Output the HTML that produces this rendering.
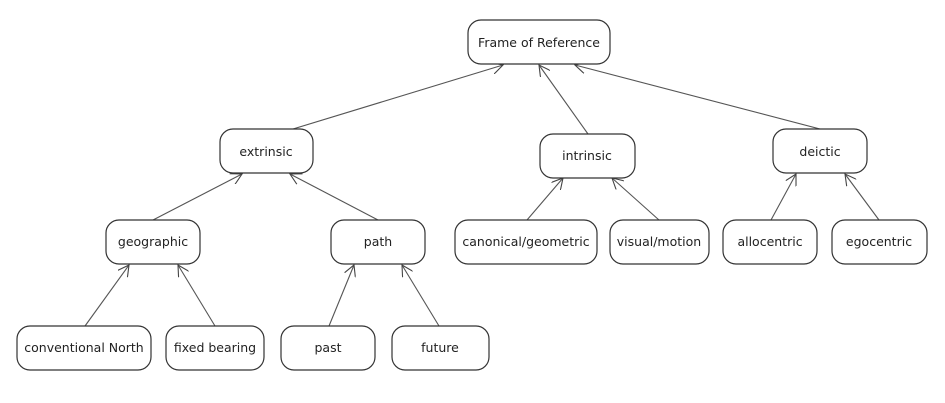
<!DOCTYPE html>
<html><head><meta charset="utf-8"><style>
html,body{margin:0;padding:0;background:#fff;}
svg{display:block;}
text{font-family:"DejaVu Sans","Liberation Sans",sans-serif;font-size:12.5px;fill:#222;}
</style></head><body>
<svg width="945" height="403" viewBox="0 0 945 403" xmlns="http://www.w3.org/2000/svg">
<defs>
<marker id="a" viewBox="0 0 12 12" refX="11" refY="6" markerWidth="12" markerHeight="12" markerUnits="userSpaceOnUse" orient="auto">
<path d="M0,0 L11,6 L0,12" fill="none" stroke="#444" stroke-width="1.1"/>
</marker>
</defs>
<g stroke="#555" stroke-width="1.1" marker-end="url(#a)">
<line x1="293" y1="129" x2="503" y2="65"/>
<line x1="588" y1="134" x2="539" y2="65"/>
<line x1="820" y1="129" x2="575" y2="65"/>
<line x1="153" y1="220" x2="242" y2="174"/>
<line x1="378" y1="220" x2="290" y2="174"/>
<line x1="85" y1="326" x2="129" y2="265"/>
<line x1="215" y1="326" x2="178" y2="265"/>
<line x1="329" y1="326" x2="354" y2="265"/>
<line x1="439" y1="326" x2="402" y2="265"/>
<line x1="527" y1="220" x2="563" y2="178"/>
<line x1="659" y1="220" x2="612" y2="178"/>
<line x1="771" y1="220" x2="796" y2="174"/>
<line x1="879" y1="220" x2="845" y2="174"/>
</g>
<g fill="#fff" stroke="#333" stroke-width="1.2">
<rect x="468" y="20" width="142" height="44" rx="13"/>
<rect x="220" y="129" width="93" height="44" rx="13"/>
<rect x="540" y="134" width="95" height="44" rx="13"/>
<rect x="773" y="129" width="94" height="44" rx="13"/>
<rect x="106" y="220" width="94" height="44" rx="13"/>
<rect x="331" y="220" width="94" height="44" rx="13"/>
<rect x="455" y="220" width="142" height="44" rx="13"/>
<rect x="610" y="220" width="99" height="44" rx="13"/>
<rect x="723" y="220" width="94" height="44" rx="13"/>
<rect x="832" y="220" width="95" height="44" rx="13"/>
<rect x="17" y="326" width="134" height="44" rx="13"/>
<rect x="166" y="326" width="98" height="44" rx="13"/>
<rect x="281" y="326" width="94" height="44" rx="13"/>
<rect x="392" y="326" width="97" height="44" rx="13"/>
</g>
<g text-anchor="middle">
<text x="539" y="47">Frame of Reference</text>
<text x="266" y="156">extrinsic</text>
<text x="587" y="160">intrinsic</text>
<text x="820" y="156">deictic</text>
<text x="153" y="246">geographic</text>
<text x="378" y="246">path</text>
<text x="526" y="246">canonical/geometric</text>
<text x="659" y="246">visual/motion</text>
<text x="770" y="246">allocentric</text>
<text x="879" y="246">egocentric</text>
<text x="84" y="352">conventional North</text>
<text x="215" y="352">fixed bearing</text>
<text x="328" y="352">past</text>
<text x="440" y="352">future</text>
</g>
</svg>
</body></html>
